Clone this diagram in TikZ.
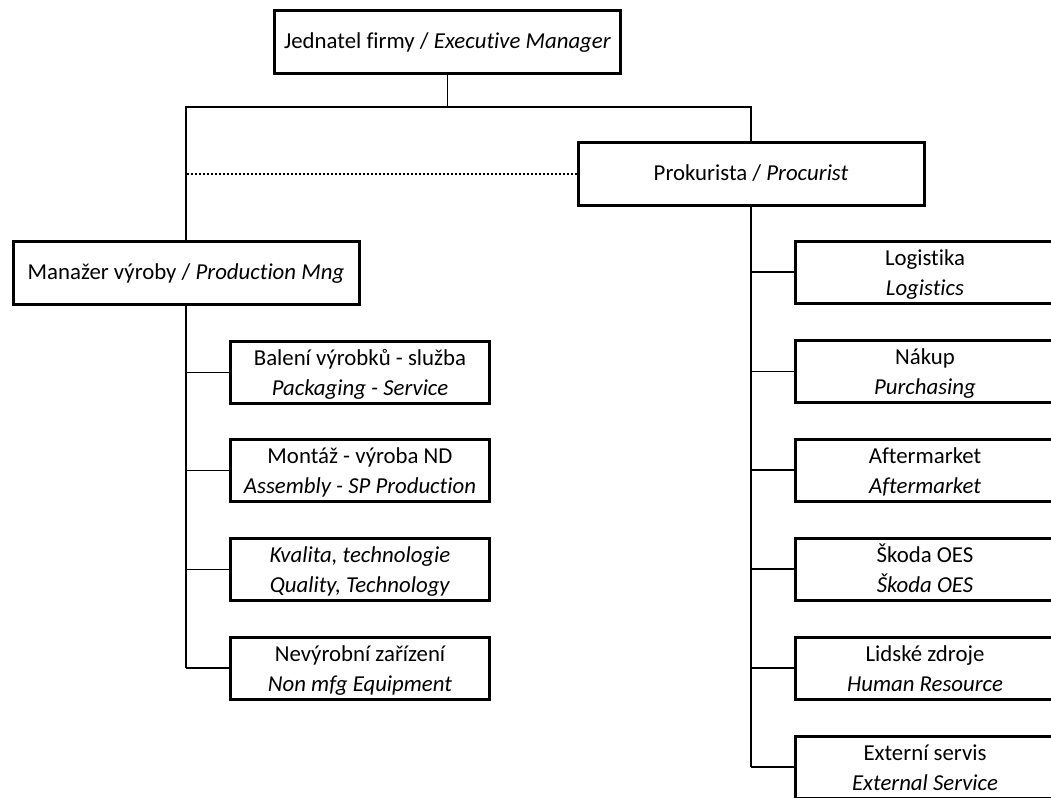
\documentclass[tikz,border=0pt]{standalone}
\usepackage{fontspec}
\setmainfont{Carlito}[Ligatures=NoCommon]
\tikzset{
	box/.style={draw, line width=1.5pt, align=center, inner sep=0pt,
		font=\fontsize{11.4}{15}\selectfont},
	topbox/.style={box, minimum width=173pt, minimum height=31.5pt,
		text height=9pt, text depth=3pt},
	unitbox/.style={box, minimum width=129.5pt, minimum height=31pt,
		text height=27pt, text depth=4pt},
	link/.style={line width=0.6pt},
	dots/.style={link, dash pattern=on 1pt off 1pt},
}

\begin{document}
\begin{tikzpicture}[x=0.5pt, y=-0.5pt]
		%%%%% START %%%%%
		
		\useasboundingbox (0,0) rectangle (1051,798);
		\clip (0,0) rectangle (1051,798);
		
		% top of the chart
		\node[topbox] (exec) at (447.5,42) {Jednatel firmy / \textit{Executive Manager}};
		\node[topbox] (proc) at (751,174) {Prokurista / \textit{Procurist}};
		\node[topbox] (mgr) at (186,273) {Manažer výroby / \textit{Production Mng}};
		
		\coordinate (bus) at (447.5,107);
		\draw[link] (exec.south) -- (bus) -| (mgr.north);
		\draw[link] (bus) -| (proc.north);
		\draw[dots] (proc.west) -- (proc.west -| mgr.north);
		
		% production side
		\node[unitbox] (pack) at (360,372.5) {Balení výrobků - služba\\\textit{Packaging - Service}};
		\node[unitbox] (asm) at (360,470.5) {Montáž - výroba ND\\\textit{Assembly - SP Production}};
		\node[unitbox] (qual) at (360,569.5) {\textit{Kvalita, technologie}\\\textit{Quality, Technology}};
		\node[unitbox] (equip) at (360,668) {Nevýrobní zařízení\\\textit{Non mfg Equipment}};
		
		\draw[link] (mgr.south) -- (mgr.south |- equip.west);
		\foreach \n in {pack,asm,qual,equip}
			\draw[link] (mgr.south |- \n.west) -- (\n.west);
		
		% procurist side
		\node[unitbox] (log) at (925,272) {Logistika\\\textit{Logistics}};
		\node[unitbox] (buy) at (925,371.5) {Nákup\\\textit{Purchasing}};
		\node[unitbox] (after) at (925,470) {Aftermarket\\\textit{Aftermarket}};
		\node[unitbox] (skoda) at (925,569) {Škoda OES\\\textit{Škoda OES}};
		\node[unitbox] (hr) at (925,668) {Lidské zdroje\\\textit{Human Resource}};
		\node[unitbox] (ext) at (925,767) {Externí servis\\\textit{External Service}};
		
		\draw[link] (proc.south) -- (proc.south |- ext.west);
		\foreach \n in {log,buy,after,skoda,hr,ext}
			\draw[link] (proc.south |- \n.west) -- (\n.west);
		
		%%%%% END %%%%%
\end{tikzpicture}
\end{document}
